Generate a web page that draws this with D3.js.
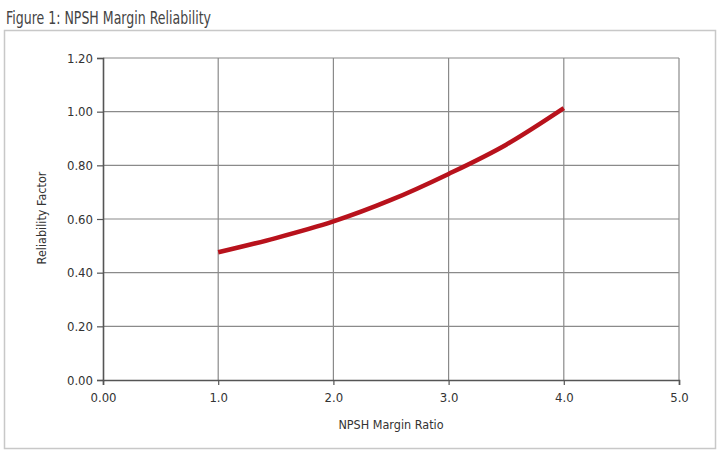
<!DOCTYPE html>
<html>
<head>
<meta charset="utf-8">
<script src="https://cdn.jsdelivr.net/npm/d3@7"></script>
<style>
  body { margin: 0; background: #fff; }
  svg { display: block; }
  text { font-family: "Liberation Sans Narrow", "DejaVu Sans Condensed", sans-serif; fill: #333; }
</style>
</head>
<body>
<svg id="chart" width="720" height="459"></svg>
<script>
// data
const marginRatio = [1.0, 1.5, 2.0, 2.5, 3.0, 3.5, 4.0];
const reliability = [0.476, 0.529, 0.591, 0.671, 0.768, 0.877, 1.013];
const xTicks = [0, 1, 2, 3, 4, 5];
const xTickLabels = ["0.00", "1.0", "2.0", "3.0", "4.0", "5.0"];
const yTicks = [0, 0.2, 0.4, 0.6, 0.8, 1.0, 1.2];

const svg = d3.select("#chart");

// outer frame
svg.append("rect")
  .attr("x", 4.5).attr("y", 30.5)
  .attr("width", 711).attr("height", 418)
  .attr("fill", "none")
  .attr("stroke", "#c8c8c8")
  .attr("stroke-width", 1.5);

svg.append("text")
  .attr("x", 6).attr("y", 24)
  .attr("font-size", 17)
  .attr("textLength", 205)
  .attr("lengthAdjust", "spacingAndGlyphs")
  .style("fill", "#444")
  .text("Figure 1: NPSH Margin Reliability");

const x = d3.scaleLinear().domain([0, 5]).range([103, 679]);
const y = d3.scaleLinear().domain([0, 1.2]).range([380, 58]);

const g = svg.append("g");

// grid
g.selectAll(".vgrid")
  .data(xTicks.slice(1))
  .enter().append("line")
  .attr("x1", d => x(d)).attr("x2", d => x(d))
  .attr("y1", y(0)).attr("y2", y(1.2))
  .attr("stroke", "#8a8a8a")
  .attr("stroke-width", 1.2);

g.selectAll(".hgrid")
  .data(yTicks.slice(1))
  .enter().append("line")
  .attr("x1", x(0)).attr("x2", x(5))
  .attr("y1", d => y(d)).attr("y2", d => y(d))
  .attr("stroke", "#8a8a8a")
  .attr("stroke-width", 1.2);

// axes
const yAxis = d3.axisLeft(y)
  .tickValues(yTicks)
  .tickFormat(d3.format(".2f"))
  .tickSize(6)
  .tickPadding(4);

const xAxis = d3.axisBottom(x)
  .tickValues(xTicks)
  .tickFormat((d, i) => xTickLabels[i])
  .tickSize(5)
  .tickPadding(8);

const ya = svg.append("g")
  .attr("transform", "translate(" + x(0) + ",0)")
  .call(yAxis);

const xa = svg.append("g")
  .attr("transform", "translate(0," + y(0) + ")")
  .call(xAxis);

[ya, xa].forEach(a => {
  a.select(".domain").attr("stroke", "#555").attr("stroke-width", 1.6);
  a.selectAll(".tick line").attr("stroke", "#555").attr("stroke-width", 1.2);
  a.selectAll(".tick text")
    .attr("font-size", 13)
    .style("font-family", "'Liberation Sans Narrow', 'DejaVu Sans Condensed', sans-serif")
    .style("fill", "#333");
});

// axis titles
svg.append("text")
  .attr("x", 391).attr("y", 429)
  .attr("text-anchor", "middle")
  .attr("font-size", 12.5)
  .text("NPSH Margin Ratio");

svg.append("text")
  .attr("transform", "translate(46,218) rotate(-90)")
  .attr("text-anchor", "middle")
  .attr("font-size", 12.5)
  .text("Reliability Factor");

// curve
const pts = marginRatio.map((d, i) => [d, reliability[i]]);
const line = d3.line()
  .x(d => x(d[0]))
  .y(d => y(d[1]))
  .curve(d3.curveMonotoneX);

svg.append("path")
  .datum(pts)
  .attr("d", line)
  .attr("fill", "none")
  .attr("stroke", "#b8121c")
  .attr("stroke-width", 4.5)
  .attr("stroke-linecap", "butt");
</script>
</body>
</html>
